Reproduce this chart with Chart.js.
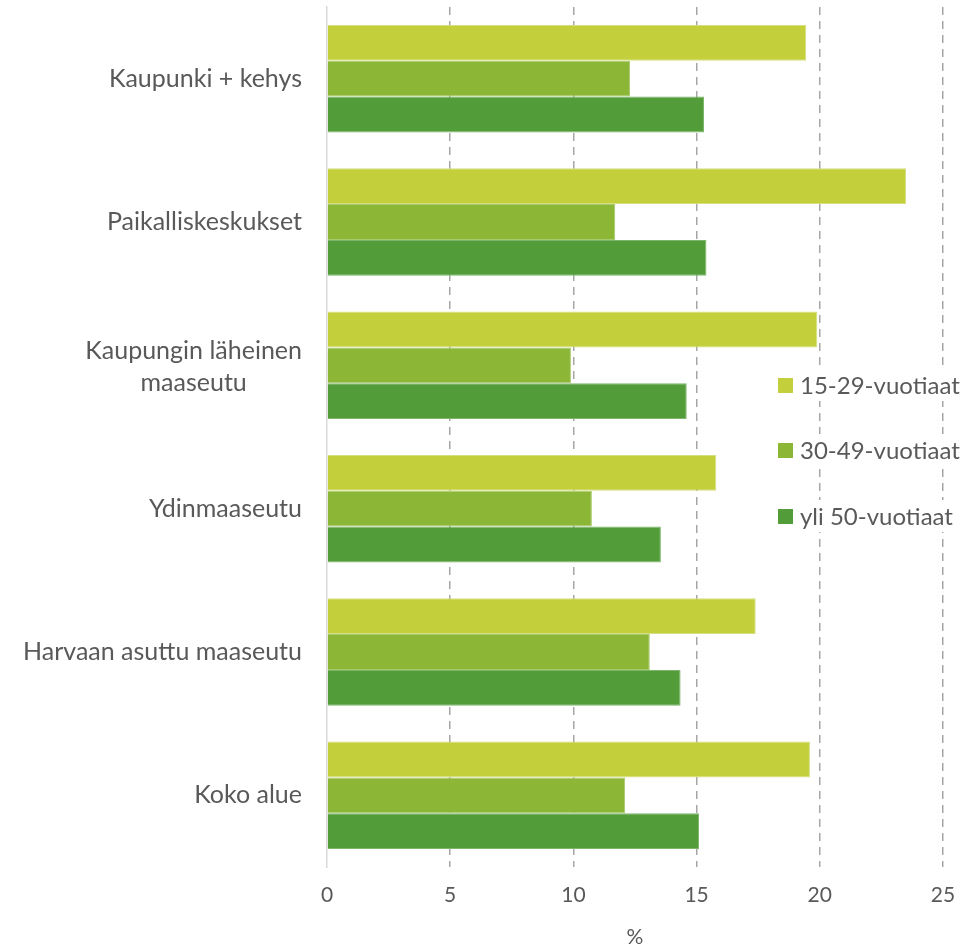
<!DOCTYPE html>
<html><head><meta charset="utf-8">
<script src="https://cdn.jsdelivr.net/npm/chart.js@4/dist/chart.umd.min.js"></script>
<style>html,body{margin:0;padding:0;background:#fff}#wrap{width:979px;height:948px;position:relative}</style>
</head><body><div id="wrap"><canvas id="c" width="979" height="948"></canvas></div>
<script>
const categories = [["Kaupunki + kehys"], ["Paikalliskeskukset"], ["Kaupungin läheinen", "maaseutu"], ["Ydinmaaseutu"], ["Harvaan asuttu maaseutu"], ["Koko alue"]];
const seriesNames = ["15-29-vuotiaat", "30-49-vuotiaat", "yli 50-vuotiaat"];
const young = [19.45, 23.5, 19.9, 15.8, 17.4, 19.6];
const middle = [12.3, 11.7, 9.9, 10.75, 13.1, 12.1];
const older = [15.3, 15.4, 14.6, 13.55, 14.35, 15.1];
const xTicks = [0, 5, 10, 15, 20, 25];
const colors = ["#C3CF3B", "#8BB636", "#529D3A"];
const borders = ["#D6DF80", "#A9C96F", "#7DB56A"];
const FONT = "Lato, 'Open Sans', sans-serif";
const TEXT = "#595959";

const labelPlugin = {
  id: 'customLabels',
  afterDraw(chart) {
    const ctx = chart.ctx;
    const ys = chart.scales.y;
    ctx.save();
    ctx.font = "25px " + FONT;
    ctx.fillStyle = TEXT;
    ctx.textBaseline = 'middle';
    const rightEdge = 302;
    categories.forEach((lines, i) => {
      const cy = ys.getPixelForValue(i);
      const widths = lines.map(l => ctx.measureText(l).width);
      const maxW = Math.max(...widths);
      const lh = 32;
      const startY = cy - (lines.length - 1) * lh / 2 + (lines.length > 1 ? 2 : 0);
      const blockCenter = rightEdge - maxW / 2;
      ctx.textAlign = 'center';
      lines.forEach((l, j) => ctx.fillText(l, blockCenter, startY + j * lh));
    });
    // legend
    const lx = 778, ly = [385, 450, 516];
    ctx.font = "24px " + FONT;
    ctx.textAlign = 'left';
    seriesNames.forEach((n, i) => {
      const w = ctx.measureText(n).width;
      ctx.fillStyle = '#fff';
      ctx.fillRect(lx - 4, ly[i] - 16, w + 30, 32);
      ctx.fillStyle = colors[i];
      ctx.fillRect(lx, ly[i] - 7, 15, 15);
      ctx.fillStyle = TEXT;
      ctx.fillText(n, lx + 22, ly[i] + 1);
    });
    ctx.restore();
  }
};

new Chart(document.getElementById('c'), {
  type: 'bar',
  data: {
    labels: categories.map(c => c.join(' ')),
    datasets: [
      {label: seriesNames[0], data: young, backgroundColor: colors[0], borderColor: borders[0], borderWidth: 1},
      {label: seriesNames[1], data: middle, backgroundColor: colors[1], borderColor: borders[1], borderWidth: 1},
      {label: seriesNames[2], data: older, backgroundColor: colors[2], borderColor: borders[2], borderWidth: 1}
    ]
  },
  options: {
    indexAxis: 'y',
    responsive: false,
    animation: false,
    layout: {padding: {left: 319, right: 36, top: 7, bottom: 0}},
    plugins: {legend: {display: false}, tooltip: {enabled: false}},
    datasets: {bar: {categoryPercentage: 0.75, barPercentage: 1.0}},
    scales: {
      x: {
        min: 0, max: 25,
        afterBuildTicks(s) { s.ticks = xTicks.map(v => ({value: v})); },
        grid: {
          drawTicks: false,
          color: ctx => ctx.tick && ctx.tick.value === 0 ? 'rgba(0,0,0,0)' : '#a6a6a6',
          lineWidth: 1.5
        },
        border: {display: false, dash: [8, 6]},
        ticks: {color: TEXT, font: {family: FONT, size: 21, lineHeight: 1.0}, padding: 18},
        title: {display: true, text: '%', color: TEXT, font: {family: FONT, size: 21, lineHeight: 1.0}, padding: {top: 3, bottom: 0}}
      },
      y: {
        grid: {display: false},
        border: {display: true, color: '#d9d9d9', width: 1.5},
        ticks: {display: false}
      }
    }
  },
  plugins: [labelPlugin]
});
</script>
</body></html>
